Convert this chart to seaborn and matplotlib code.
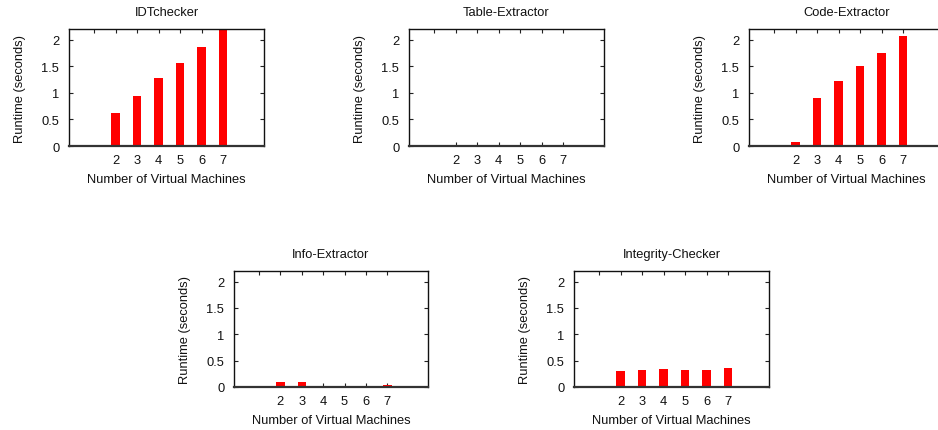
import matplotlib
matplotlib.use("Agg")
import matplotlib.pyplot as plt
import seaborn as sns
import pandas as pd

sns.set_theme(style="white")
plt.rcParams['font.family'] = ['Liberation Sans', 'DejaVu Sans']

vms = ["2", "3", "4", "5", "6", "7"]
idt_checker = [0.62, 0.94, 1.27, 1.56, 1.86, 2.20]
table_extractor = [0.0, 0.0, 0.0, 0.0, 0.01, 0.01]
code_extractor = [0.07, 0.90, 1.23, 1.50, 1.75, 2.07]
info_extractor = [0.10, 0.10, 0.0, 0.01, 0.01, 0.03]
integrity_checker = [0.31, 0.33, 0.34, 0.32, 0.33, 0.36]

titles = ["IDTchecker", "Table-Extractor", "Code-Extractor", "Info-Extractor", "Integrity-Checker"]
series = [idt_checker, table_extractor, code_extractor, info_extractor, integrity_checker]
yticks = [0, 0.5, 1, 1.5, 2]
yticklabels = ["0", "0.5", "1", "1.5", "2"]

W, H = 938, 431
fig = plt.figure(figsize=(W / 100, H / 100), dpi=100)

# axes boxes in pixels: left, top, right, bottom
boxes = [(69, 30, 264, 147), (409, 30, 604, 147), (749, 30, 944, 147),
         (234, 272, 428, 388), (574, 272, 769, 388)]

fs = 9.3
for title, vals, (l, t, r, b) in zip(titles, series, boxes):
    ax = fig.add_axes([l / W, 1 - b / H, (r - l) / W, (b - t) / H])
    df = pd.DataFrame({"vm": vms, "runtime": vals})
    sns.barplot(data=df, x="vm", y="runtime", color="#ff0000", saturation=1,
                width=0.39, ax=ax, edgecolor="none")
    ax.set_xlim(-2.17, 6.9)
    ax.set_ylim(0, 2.2)
    ax.set_yticks(yticks)
    ax.set_yticklabels(yticklabels, fontsize=fs, color="#111111")
    ax.set_xticks(range(len(vms)))
    ax.set_xticklabels(vms, fontsize=fs, color="#111111")
    ax.set_title(title, fontsize=fs, pad=10, color="#111111")
    ax.set_xlabel("Number of Virtual Machines", fontsize=fs, labelpad=5, color="#111111")
    ax.set_ylabel("Runtime (seconds)", fontsize=fs, labelpad=11, color="#111111")
    ax.tick_params(axis="y", direction="in", length=3, width=0.8, right=True,
                   left=True, pad=7, color="#222222")
    ax.tick_params(axis="x", direction="in", length=3, width=0.8, bottom=True,
                   pad=6, color="#222222")
    # mirrored top ticks
    sec = ax.secondary_xaxis("top")
    sec.set_xticks(range(-1, len(vms)))
    sec.set_xticklabels([])
    sec.tick_params(axis="x", direction="in", length=3, width=0.8, color="#222222")
    sec.spines["top"].set_visible(False)
    for name, sp in ax.spines.items():
        sp.set_visible(True)
        sp.set_color("#111111")
        sp.set_linewidth(1.0)
    ax.spines["bottom"].set_linewidth(1.6)
    ax.spines["bottom"].set_color("#333333")
    ax.set_facecolor("white")

fig.savefig("out.png", dpi=100)
